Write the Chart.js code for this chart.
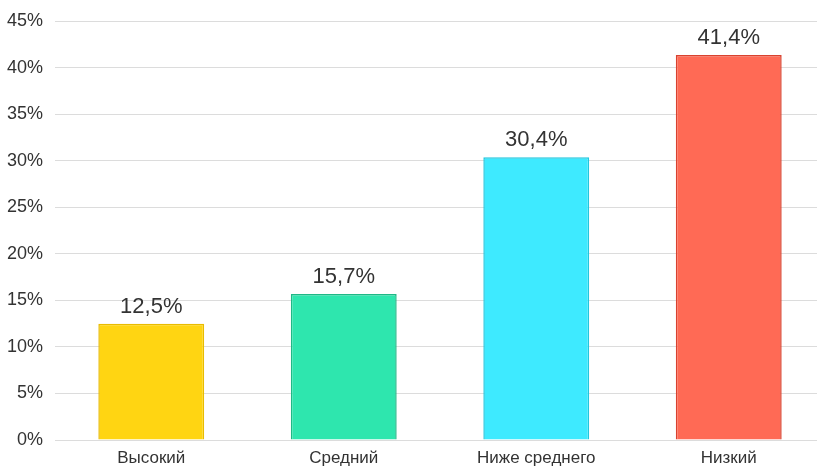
<!DOCTYPE html>
<html>
<head>
<meta charset="utf-8">
<script src="https://cdn.jsdelivr.net/npm/chart.js@4"></script>
<style>
    html, body { margin: 0; padding: 0; background: #fff; overflow: hidden; }
    #wrap { width: 825px; height: 467px; }
</style>
</head>
<body>
<div id="wrap"><canvas id="myChart"></canvas></div>
<script>
// data
var categories = ['Высокий', 'Средний', 'Ниже среднего', 'Низкий'];
var values = [12.5, 15.7, 30.4, 41.4];
var fill_ls = ['#FFD512', '#2EE6AE', '#3EEAFF', '#FF6A55'];
var border_ls = ['#E9BC00', '#1FB886', '#22C6DE', '#D9422F'];
var y_ticks = [0, 5, 10, 15, 20, 25, 30, 35, 40, 45];

var fontFam = '"Liberation Sans", Arial, sans-serif';

// draws the value above each bar
var valueLabels = {
    id: 'valueLabels',
    afterDatasetsDraw: function (chart) {
        var ctx = chart.ctx;
        var meta = chart.getDatasetMeta(0);
        ctx.save();
        ctx.font = '22px ' + fontFam;
        ctx.fillStyle = '#333';
        ctx.textAlign = 'center';
        ctx.textBaseline = 'alphabetic';
        meta.data.forEach(function (bar, i) {
            var txt = String(values[i]).replace('.', ',') + '%';
            ctx.fillText(txt, bar.x, bar.y - 11);
        });
        ctx.restore();
    }
};

var canvas = document.getElementById('myChart');
var myChart = new Chart(canvas, {
    type: 'bar',
    data: {
        labels: categories,
        datasets: [{
            data: values,
            backgroundColor: fill_ls,
            borderColor: border_ls,
            borderWidth: 1.5,
            barPercentage: 0.55,
            categoryPercentage: 1
        }]
    },
    options: {
        responsive: true,
        maintainAspectRatio: false,
        animation: false,
        layout: {
            padding: { top: 0, right: 0, bottom: 0, left: 0 }
        },
        plugins: {
            legend: { display: false },
            tooltip: { enabled: false }
        },
        scales: {
            x: {
                afterFit: function (axis) { axis.height = 27; },
                grid: { display: false, drawTicks: false },
                border: { display: false },
                ticks: {
                    color: '#333',
                    font: { family: fontFam, size: 17 },
                    padding: 8
                }
            },
            y: {
                min: 0,
                max: 45,
                afterFit: function (axis) { axis.width = 55; },
                afterBuildTicks: function (axis) {
                    axis.ticks = y_ticks.map(function (v) { return { value: v }; });
                },
                grid: { color: '#dcdcdc', lineWidth: 1, drawTicks: false },
                border: { display: false },
                ticks: {
                    color: '#333',
                    font: { family: fontFam, size: 18, lineHeight: 1.05 },
                    padding: 12,
                    callback: function (v) { return v + '%'; }
                }
            }
        }
    },
    plugins: [valueLabels]
});
</script>
</body>
</html>
